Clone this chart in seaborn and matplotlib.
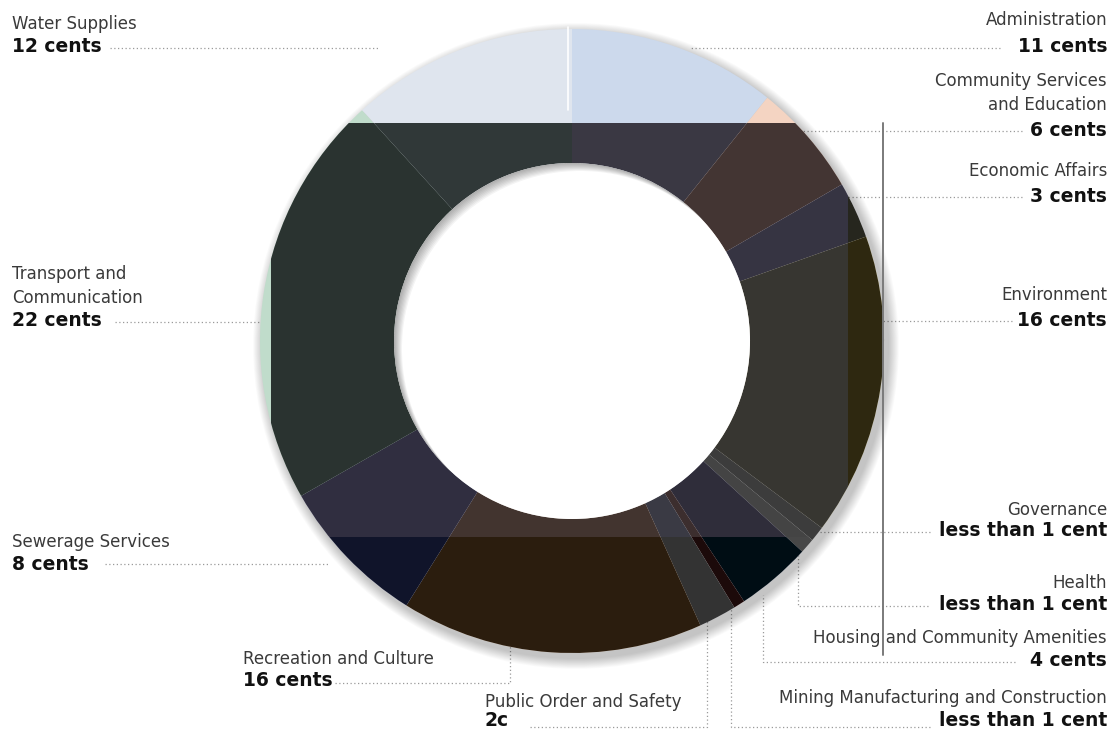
import matplotlib
matplotlib.use("Agg")
import matplotlib.pyplot as plt
from matplotlib.patches import Rectangle, Circle
import seaborn as sns

# Datos: centavos de cada dolar por area de gasto (sentido horario desde arriba)
categories = ["Administration", "Community Services\nand Education", "Economic Affairs",
              "Environment", "Governance", "Health", "Housing and Community Amenities",
              "Mining Manufacturing and Construction", "Public Order and Safety",
              "Recreation and Culture", "Sewerage Services",
              "Transport and\nCommunication", "Water Supplies"]
cents = [11, 6, 3, 16, 0.8, 0.8, 4, 0.6, 2, 16, 8, 22, 12]
value_labels = ["11 cents", "6 cents", "3 cents", "16 cents", "less than 1 cent",
                "less than 1 cent", "4 cents", "less than 1 cent", "2c", "16 cents",
                "8 cents", "22 cents", "12 cents"]

# Colores tal como aparecen en cada zona del grafico
pastel = ["#ccd9ec", "#f4d4c2", "#d6d4e4", "#ece3b8", "#d0d0d0", "#d8d8d8", "#c8c8dc",
          "#e0c8c8", "#d4d4dc", "#ead8c8", "#c8cce0", "#c0dccb", "#dfe5ee"]
mid = ["#3a3843", "#433533", "#363442", "#373631", "#3c3c3c", "#444444", "#2f2d3a",
       "#3c2e2e", "#3a3a44", "#42342f", "#302e40", "#2a3330", "#303838"]
right_band = ["#3a3843", "#433533", "#26261e", "#2e2810", "#3c3c3c", "#444444", "#2f2d3a",
              "#3c2e2e", "#3a3a44", "#42342f", "#302e40", "#2a3330", "#303838"]
bottom = ["#3a3843", "#433533", "#363442", "#373631", "#3a3a3a", "#474747", "#000d14",
          "#1c0a0a", "#333333", "#2b1d0e", "#10142a", "#1c2420", "#303838"]

W, H = 1113, 731


def Y(y):
    # coordenada de imagen -> coordenada de datos
    return H - y


# Posiciones de etiquetas (x, y nombre, y valor, alineacion)
label_pos = [
    (1107, 20, 47, "right"),
    (1107, 93, 130, "right"),
    (1107, 171, 197, "right"),
    (1107, 295, 320, "right"),
    (1107, 510, 531, "right"),
    (1107, 583, 604, "right"),
    (1107, 638, 660, "right"),
    (1107, 698, 720, "right"),
    (485, 702, 721, "left"),
    (243, 659, 681, "left"),
    (12, 542, 564, "left"),
    (12, 286, 321, "left"),
    (12, 24, 47, "left"),
]
# Lineas guia punteadas (en coordenadas de imagen)
leaders = [
    [(1000, 48), (690, 48)],
    [(1022, 131), (790, 131)],
    [(1022, 197), (840, 197)],
    [(1012, 321), (870, 321)],
    [(930, 532), (810, 532)],
    [(928, 606), (798, 606), (798, 550)],
    [(1015, 662), (763, 662), (763, 595)],
    [(930, 727), (731, 727), (731, 600)],
    [(530, 727), (707, 727), (707, 620)],
    [(335, 683), (510, 683), (510, 620)],
    [(105, 564), (330, 564)],
    [(115, 322), (275, 322)],
    [(110, 48), (380, 48)],
]

sns.set_theme(style="white")
plt.rcParams['font.family'] = ['DejaVu Sans']

fig = plt.figure(figsize=(W / 100, H / 100), dpi=100)
ax = fig.add_axes([0, 0, 1, 1])

cx, cy = 572, Y(341)
R, r_in = 312, 178

# sombra exterior
for i in range(12):
    ax.add_patch(Circle((cx + 4, cy - 5), R + 1 + i * 0.9, color="black", alpha=0.02,
                        lw=0, zorder=1))

# lineas guia
for path in leaders:
    xs = [p[0] for p in path]
    ys = [Y(p[1]) for p in path]
    ax.plot(xs, ys, color="#9a9a9a", lw=0.9, ls=(0, (1, 2)), zorder=0.5)


def draw_ring(colors, clip=None, z=2):
    wedges, _ = ax.pie(cents, colors=sns.color_palette(colors), startangle=90,
                       counterclock=False, center=(cx, cy), radius=R,
                       wedgeprops=dict(width=R - r_in, linewidth=0))
    for w in wedges:
        w.set_zorder(z)
        if clip is not None:
            w.set_clip_on(True)
            w.set_clip_path(clip)
    return wedges


draw_ring(pastel, z=2)
clip_mid = Rectangle((271, Y(537)), 848 - 271, 537 - 123, transform=ax.transData)
clip_right = Rectangle((848, Y(537)), 60, 537 - 123, transform=ax.transData)
clip_bottom = Rectangle((0, 0), W, Y(537), transform=ax.transData)
draw_ring(mid, clip_mid, z=3)
draw_ring(right_band, clip_right, z=3)
draw_ring(bottom, clip_bottom, z=3)

# linea blanca en la parte superior
ax.plot([568, 568], [Y(27), Y(110)], color="white", lw=1.2, zorder=4)

# hueco blanco y su sombra interior (arriba a la izquierda)
hole = Circle((cx, cy), r_in, color="white", lw=0, zorder=3.5)
ax.add_patch(hole)
hole_clip = Circle((cx, cy), r_in, transform=ax.transData)
band = 40
for d in range(1, 9):
    ring = Circle((cx + d, cy - d), r_in + band / 2, fill=False, ec="black",
                  lw=band * 0.72, alpha=0.045, zorder=4)
    ax.add_patch(ring)
    ring.set_clip_path(hole_clip)

# linea vertical gris
ax.plot([883, 883], [Y(123), Y(655)], color="#7a7a7a", lw=1.4, zorder=6)

# etiquetas
for name, val, (x, yn, yv, ha) in zip(categories, value_labels, label_pos):
    ax.text(x, Y(yn), name, ha=ha, va="center", fontsize=12, color="#3a3a3a",
            linespacing=1.42, zorder=5)
    ax.text(x, Y(yv), val, ha=ha, va="center", fontsize=13.5, fontweight="bold",
            color="#111111", zorder=5)

ax.set_xlim(0, W)
ax.set_ylim(0, H)
ax.set_aspect("auto")
ax.axis("off")

fig.savefig("out.png", dpi=100)
